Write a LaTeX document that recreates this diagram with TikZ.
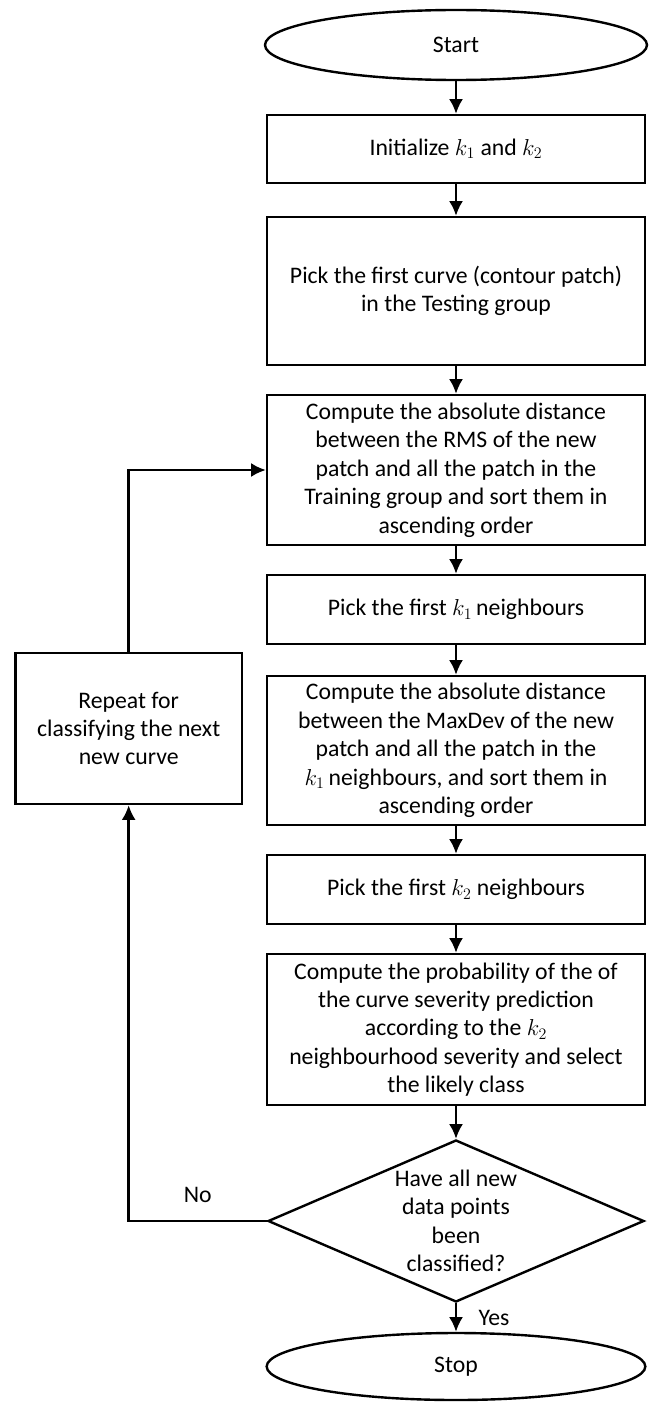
\documentclass[tikz,border=0pt]{standalone}
\usepackage{fontspec}
\setmainfont{Carlito}
\usetikzlibrary{positioning,shapes.geometric,arrows.meta}

\begin{document}
\begin{tikzpicture}[
	rec/.style  = {draw, rectangle, line width=1.8pt, align=center, inner sep=2pt,
		minimum width=283.5pt, font=\fontsize{17.8}{21.3}\selectfont},
	term/.style = {rec, ellipse, minimum width=286.5pt, minimum height=52.5pt},
	dec/.style  = {rec, diamond, aspect=2.3, inner sep=0pt,
		minimum width=282pt, minimum height=121.5pt},
	lbl/.style  = {inner sep=1pt, font=\fontsize{17.8}{21.3}\selectfont},
	flow/.style = {->, line width=1.8pt},
	>={Latex[length=11pt,width=10.5pt]}]
	
	\useasboundingbox (0,0) rectangle (489.75pt,-1051.5pt);
	
	% main column, every box below the previous one
	\node[term] (start) at (342pt,-33.75pt) {Start};
	\node[rec, minimum height=51pt, below=24.45pt of start] (c1) {Initialize $k_1$ and $k_2$};
	\node[rec, minimum height=111pt, below=23.7pt of c1] (c2) {Pick the first curve (contour patch)\\in the Testing group};
	\node[rec, minimum height=112.5pt, below=20.7pt of c2] (c3) {Compute the absolute distance\\between the RMS of the new\\patch and all the patch in the\\Training group and sort them in\\ascending order};
	\node[rec, minimum height=51.75pt, below=20.7pt of c3] (c4) {Pick the first $k_1$\,neighbours};
	\node[rec, minimum height=111.75pt, below=22.2pt of c4] (c5) {Compute the absolute distance\\between the MaxDev of the new\\patch and all the patch in the\\$k_1$\,neighbours, and sort them in\\ascending order};
	\node[rec, minimum height=51.75pt, below=20.7pt of c5] (c6) {Pick the first $k_2$ neighbours};
	\node[rec, minimum height=113.25pt, below=20.7pt of c6] (c7) {Compute the probability of the of\\the curve severity prediction\\according to the $k_2$\\neighbourhood severity and select\\the likely class};
	\node[dec, below=24.45pt of c7] (dec) {Have all new\\data points\\been\\classified?};
	\node[term, minimum width=284pt, minimum height=50.25pt, below=21.45pt of dec] (stop) {Stop};
	
	% loop box on the left
	\node[rec, minimum width=170pt, minimum height=113.25pt, left=16.95pt of c5, yshift=16.5pt] (rep) {Repeat for\\classifying the next\\new curve};
	
	% arrows down the main column
	\foreach \a/\b in {start/c1,c1/c2,c2/c3,c3/c4,c4/c5,c5/c6,c6/c7,c7/dec}
	\draw[flow] (\a) -- (\b);
	
	\draw[flow] (dec) -- node[lbl, right=15pt] {Yes} (stop);
	\draw[flow] (dec.west) -| node[lbl, pos=0.25, above=11.5pt] {No} (rep.south);
	\draw[flow] (rep.north) |- (c3.west);
\end{tikzpicture}
\end{document}
